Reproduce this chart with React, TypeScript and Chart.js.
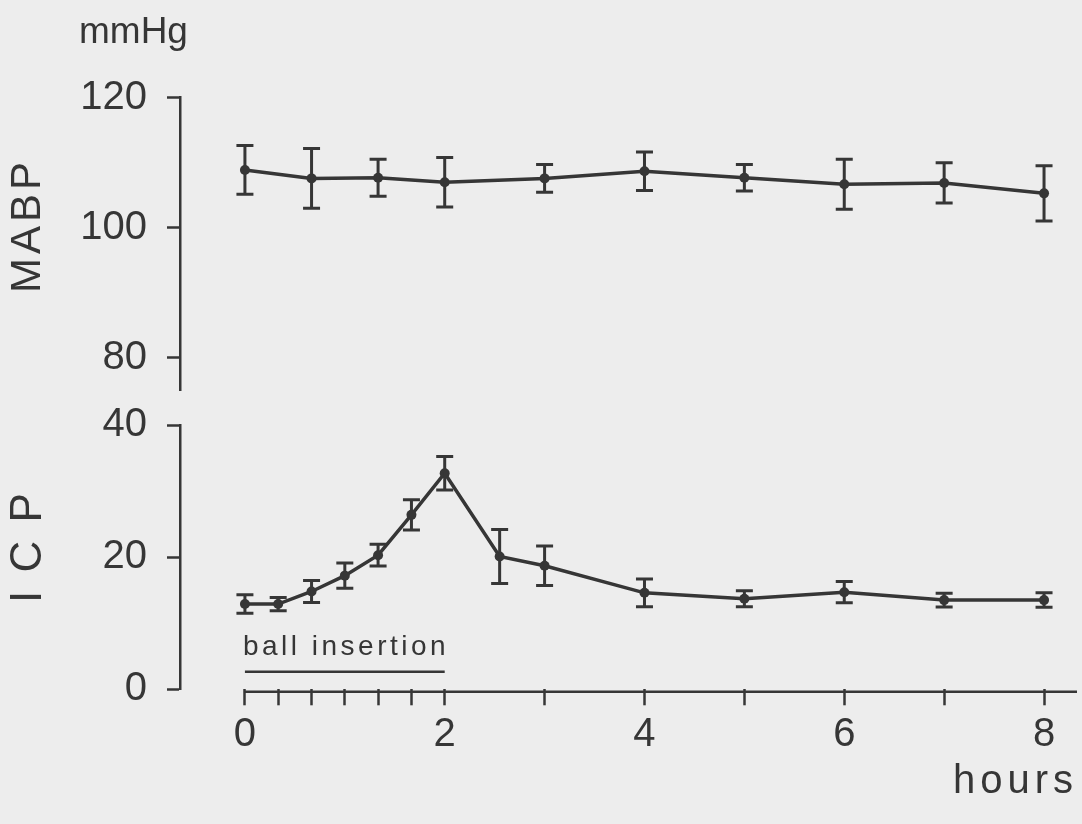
import React, { useEffect, useRef } from 'react';
import { Chart, registerables } from 'chart.js';

Chart.register(...registerables);

// ---- data ----
const mabpHours = [0, 0.667, 1.333, 2, 3, 4, 5, 6, 7, 8];
const mabpMean = [108.9, 107.6, 107.7, 107.0, 107.6, 108.7, 107.7, 106.7, 106.9, 105.3];
const mabpSem = [3.75, 4.6, 2.85, 3.8, 2.15, 2.95, 2.05, 3.85, 3.1, 4.25];

const icpHours = [0, 0.333, 0.667, 1, 1.333, 1.667, 2, 2.55, 3, 4, 5, 6, 7, 8];
const icpMean = [12.9, 12.9, 14.8, 17.2, 20.3, 26.4, 32.7, 20.1, 18.7, 14.6, 13.7, 14.7, 13.5, 13.5];
const icpSem = [1.4, 1.0, 1.65, 1.9, 1.65, 2.3, 2.55, 4.1, 3.0, 2.1, 1.2, 1.6, 1.05, 1.1];

const xTickHours = [0, 0.333, 0.667, 1, 1.333, 1.667, 2, 3, 4, 5, 6, 7, 8];
const xLabelHours = [0, 2, 4, 6, 8];
const mabpTicks = [80, 100, 120];
const icpTicks = [0, 20, 40];
const ballInsertion = [0, 2];

const unitLabel = 'mmHg';
const topAxisTitle = 'MABP';
const bottomAxisTitle = 'I C P';
const xAxisTitle = 'hours';
const insertionLabel = 'ball insertion';

// ---- style ----
const INK = '#363636';
const BG = '#ededed';
const FONT = '"Liberation Sans", Arial, sans-serif';

const errorBarPlugin = {
  id: 'errorBars',
  afterDatasetsDraw(chart: any) {
    const ctx = chart.ctx;
    const yScale = chart.scales.y;
    chart.data.datasets.forEach((ds: any, i: number) => {
      const errs = ds.errors;
      if (!errs) return;
      const meta = chart.getDatasetMeta(i);
      ctx.save();
      ctx.strokeStyle = INK;
      ctx.lineWidth = 3;
      meta.data.forEach((pt: any, j: number) => {
        const v = ds.data[j].y;
        const e = errs[j];
        const yTop = yScale.getPixelForValue(v + e);
        const yBot = yScale.getPixelForValue(v - e);
        const x = pt.x;
        ctx.beginPath();
        ctx.moveTo(x, yTop);
        ctx.lineTo(x, yBot);
        ctx.moveTo(x - 8.5, yTop);
        ctx.lineTo(x + 8.5, yTop);
        ctx.moveTo(x - 8.5, yBot);
        ctx.lineTo(x + 8.5, yBot);
        ctx.stroke();
      });
      ctx.restore();
    });
  },
};

const topTextPlugin = {
  id: 'topText',
  afterDraw(chart: any) {
    const ctx = chart.ctx;
    ctx.save();
    ctx.fillStyle = INK;
    ctx.font = `37px ${FONT}`;
    ctx.textAlign = 'left';
    ctx.textBaseline = 'alphabetic';
    ctx.fillText(unitLabel, 79, 43);

    ctx.translate(28, 227.5);
    ctx.rotate(-Math.PI / 2);
    ctx.font = `42px ${FONT}`;
    (ctx as any).letterSpacing = '4px';
    ctx.textAlign = 'center';
    ctx.textBaseline = 'middle';
    ctx.fillText(topAxisTitle, 2, 0);
    ctx.restore();
  },
};

const bottomTextPlugin = {
  id: 'bottomText',
  afterDraw(chart: any) {
    const ctx = chart.ctx;
    const xs = chart.scales.x;
    const area = chart.chartArea;
    ctx.save();
    ctx.strokeStyle = INK;
    ctx.fillStyle = INK;

    // x axis line from hour 0 to the right end
    ctx.lineWidth = 2.5;
    ctx.beginPath();
    ctx.moveTo(xs.getPixelForValue(0) - 1, area.bottom + 2.4);
    ctx.lineTo(area.right, area.bottom + 2.4);
    ctx.stroke();

    // ball insertion bar
    const x0 = xs.getPixelForValue(ballInsertion[0]);
    const x1 = xs.getPixelForValue(ballInsertion[1]);
    ctx.lineWidth = 2.5;
    ctx.beginPath();
    ctx.moveTo(x0, area.bottom - 17.6);
    ctx.lineTo(x1, area.bottom - 17.6);
    ctx.stroke();
    ctx.font = `28px ${FONT}`;
    (ctx as any).letterSpacing = '3.5px';
    ctx.textAlign = 'left';
    ctx.textBaseline = 'alphabetic';
    ctx.fillText(insertionLabel, x0 - 2, area.bottom - 34.3);

    // hours
    ctx.font = `40px ${FONT}`;
    (ctx as any).letterSpacing = '5px';
    ctx.textAlign = 'right';
    ctx.fillText(xAxisTitle, 1078, 413);

    // ICP axis title
    ctx.translate(29, 168);
    ctx.rotate(-Math.PI / 2);
    ctx.font = `44px ${FONT}`;
    (ctx as any).letterSpacing = '3px';
    ctx.textAlign = 'center';
    ctx.textBaseline = 'middle';
    ctx.fillText(bottomAxisTitle, 1.5, 0);
    ctx.restore();
  },
};

function yAxis(min: number, max: number, ticks: number[]) {
  return {
    type: 'linear',
    min,
    max,
    afterBuildTicks: (s: any) => {
      s.ticks = ticks.map((v) => ({ value: v }));
    },
    afterFit: (s: any) => {
      s.width = 180;
    },
    grid: {
      drawOnChartArea: false,
      drawTicks: true,
      tickLength: 13,
      tickWidth: 2.5,
      tickColor: INK,
      color: INK,
    },
    border: { display: true, color: INK, width: 2.5 },
    ticks: {
      padding: 20,
      color: INK,
      font: { family: FONT, size: 40 },
    },
  };
}

export default function App() {
  const topRef = useRef<HTMLCanvasElement>(null);
  const botRef = useRef<HTMLCanvasElement>(null);

  useEffect(() => {
    const lineStyle = {
      borderColor: INK,
      backgroundColor: INK,
      borderWidth: 3.5,
      pointRadius: 5,
      pointBorderWidth: 0,
      pointBackgroundColor: INK,
      tension: 0,
    };

    const top = new Chart(topRef.current as HTMLCanvasElement, {
      type: 'line',
      data: {
        datasets: [
          {
            ...lineStyle,
            data: mabpHours.map((h, i) => ({ x: h, y: mabpMean[i] })),
            errors: mabpSem,
          } as any,
        ],
      },
      options: {
        animation: false,
        responsive: false,
        devicePixelRatio: 1,
        layout: { padding: { left: 0, right: 4, top: 97.7, bottom: 50.5 } },
        plugins: { legend: { display: false }, tooltip: { enabled: false } },
        scales: {
          x: { type: 'linear', display: false, min: -0.65, max: 8.33 },
          y: yAxis(75, 120, mabpTicks) as any,
        },
      },
      plugins: [errorBarPlugin, topTextPlugin],
    });

    const bottom = new Chart(botRef.current as HTMLCanvasElement, {
      type: 'line',
      data: {
        datasets: [
          {
            ...lineStyle,
            data: icpHours.map((h, i) => ({ x: h, y: icpMean[i] })),
            errors: icpSem,
          } as any,
        ],
      },
      options: {
        animation: false,
        responsive: false,
        devicePixelRatio: 1,
        layout: { padding: { left: 0, right: 4, top: 45, bottom: 74.7 } },
        plugins: { legend: { display: false }, tooltip: { enabled: false } },
        scales: {
          x: {
            type: 'linear',
            min: -0.65,
            max: 8.33,
            afterBuildTicks: (s: any) => {
              s.ticks = xTickHours.map((v) => ({ value: v }));
            },
            afterFit: (s: any) => {
              s.height = 60;
            },
            grid: {
              drawOnChartArea: false,
              drawTicks: true,
              tickLength: 16,
              tickWidth: 2.5,
              tickColor: INK,
              color: INK,
            },
            border: { display: false },
            ticks: {
              autoSkip: false,
              maxRotation: 0,
              padding: 6,
              color: INK,
              font: { family: FONT, size: 40 },
              callback: (v: any) => {
                const n = Number(v);
                return xLabelHours.some((h) => Math.abs(h - n) < 1e-6) ? String(n) : '';
              },
            },
          } as any,
          y: yAxis(0, 40, icpTicks) as any,
        },
      },
      plugins: [errorBarPlugin, bottomTextPlugin],
    });

    return () => {
      top.destroy();
      bottom.destroy();
    };
  }, []);

  return (
    <div
      style={{
        position: 'fixed',
        left: 0,
        top: 0,
        width: 1082,
        height: 824,
        background: BG,
        overflow: 'hidden',
      }}
    >
      <canvas ref={topRef} width={1082} height={441} style={{ position: 'absolute', left: 0, top: 0 }} />
      <canvas ref={botRef} width={1082} height={444} style={{ position: 'absolute', left: 0, top: 380 }} />
    </div>
  );
}
